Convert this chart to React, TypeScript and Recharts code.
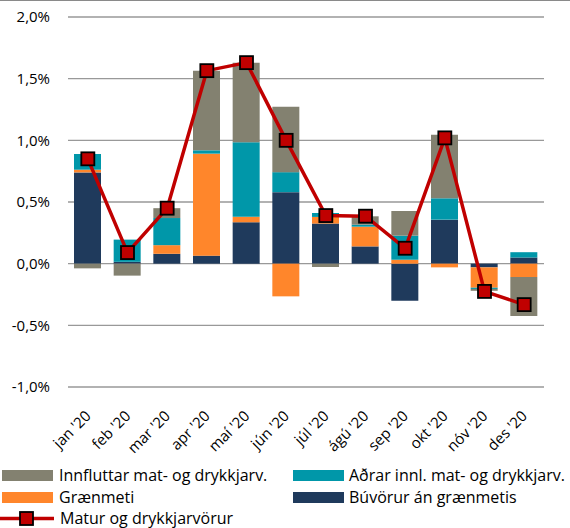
import { Bar, CartesianGrid, ComposedChart, Line, XAxis, YAxis } from "recharts"

const months = ["jan '20", "feb '20", "mar '20", "apr '20", "maí '20", "jún '20", "júl '20", "ágú '20", "sep '20", "okt '20", "nóv '20", "des '20"]

// Búvörur án grænmetis
const buvorur = [0.74, 0.015, 0.08, 0.065, 0.335, 0.58, 0.325, 0.14, -0.3, 0.357, -0.03, 0.05]
// Grænmeti
const graenmeti = [0.022, 0, 0.07, 0.827, 0.046, -0.265, 0.054, 0.16, 0.032, -0.03, -0.165, -0.108]
// Aðrar innl. mat- og drykkjarv.
const adrar = [0.127, 0.18, 0.22, 0.027, 0.603, 0.162, 0.032, 0.016, 0.195, 0.173, -0.01, 0.043]
// Innfluttar mat- og drykkjarv.
const innfluttar = [-0.038, -0.097, 0.08, 0.646, 0.646, 0.53, -0.027, 0.068, 0.2, 0.516, -0.015, -0.316]
// Matur og drykkjarvörur
const matur = [0.85, 0.09, 0.45, 1.565, 1.63, 1.0, 0.39, 0.385, 0.125, 1.02, -0.225, -0.332]

const yTicks = [-1, -0.5, 0, 0.5, 1, 1.5, 2]

const COLORS = {
  innfluttar: "#838170",
  adrar: "#0097A9",
  graenmeti: "#FF862B",
  buvorur: "#1F3A5C",
  matur: "#C00000",
}

const FONT = "'Open Sans', sans-serif"

const chartData = months.map((m, i) => ({
  month: m,
  buvorur: buvorur[i],
  graenmeti: graenmeti[i],
  adrar: adrar[i],
  innfluttar: innfluttar[i],
  matur: matur[i],
}))

const fmt = (v: number) => v.toFixed(1).replace(".", ",") + "%"

const SquareDot = (props: any) => {
  const { cx, cy } = props
  if (cx == null || cy == null) return null
  return <rect x={cx - 6.5} y={cy - 6.5} width={13} height={13} fill={COLORS.matur} stroke="#000" strokeWidth={1.8} />
}

const MonthTick = ({ x, y, payload }: any) => (
  <text
    x={x + 4}
    y={y + 22}
    transform={`rotate(-45, ${x + 4}, ${y + 22})`}
    textAnchor="end"
    fontSize={15}
    fontFamily={FONT}
    fill="#000"
  >
    {payload.value}
  </text>
)

function Swatch({ color }: { color: string }) {
  return <div style={{ width: 51, height: 11, background: color }} />
}

export default function App() {
  const legendText = { fontSize: 16, fontFamily: FONT, color: "#000", lineHeight: "16px", whiteSpace: "nowrap" as const }
  return (
    <div style={{ position: "absolute", left: 0, top: 0, width: 570, height: 528, background: "#fff", overflow: "hidden" }}>
      <div style={{ position: "absolute", left: 0, top: 0, width: 570, height: 1, background: "#8a8a8a" }} />
      <ComposedChart
        width={570}
        height={460}
        data={chartData}
        stackOffset="sign"
        barSize={27}
        margin={{ top: 17, right: 26, bottom: 0, left: 0 }}
      >
        <CartesianGrid vertical={false} stroke="#999" strokeWidth={1.3} />
        <XAxis dataKey="month" height={73} axisLine={false} tickLine={false} tick={<MonthTick />} interval={0} />
        <YAxis
          width={68}
          domain={[-1, 2]}
          ticks={yTicks}
          tickFormatter={fmt}
          axisLine={false}
          tickLine={false}
          tickSize={0}
          tickMargin={18}
          tick={{ fontSize: 15, fontFamily: FONT, fill: "#000" }}
        />
        <Bar dataKey="buvorur" stackId="a" fill={COLORS.buvorur} isAnimationActive={false} />
        <Bar dataKey="graenmeti" stackId="a" fill={COLORS.graenmeti} isAnimationActive={false} />
        <Bar dataKey="adrar" stackId="a" fill={COLORS.adrar} isAnimationActive={false} />
        <Bar dataKey="innfluttar" stackId="a" fill={COLORS.innfluttar} isAnimationActive={false} />
        <Line
          dataKey="matur"
          stroke={COLORS.matur}
          strokeWidth={3.5}
          dot={<SquareDot />}
          activeDot={false}
          isAnimationActive={false}
        />
      </ComposedChart>
      <div style={{ position: "absolute", left: 2, top: 467, display: "flex", alignItems: "center", gap: 6 }}>
        <Swatch color={COLORS.innfluttar} />
        <span style={legendText}>Innfluttar mat- og drykkjarv.</span>
      </div>
      <div style={{ position: "absolute", left: 293, top: 467, display: "flex", alignItems: "center", gap: 5 }}>
        <Swatch color={COLORS.adrar} />
        <span style={legendText}>Aðrar innl. mat- og drykkjarv.</span>
      </div>
      <div style={{ position: "absolute", left: 2, top: 489, display: "flex", alignItems: "center", gap: 6 }}>
        <Swatch color={COLORS.graenmeti} />
        <span style={legendText}>Grænmeti</span>
      </div>
      <div style={{ position: "absolute", left: 293, top: 489, display: "flex", alignItems: "center", gap: 5 }}>
        <Swatch color={COLORS.buvorur} />
        <span style={legendText}>Búvörur án grænmetis</span>
      </div>
      <div style={{ position: "absolute", left: 0, top: 510, display: "flex", alignItems: "center", gap: 6 }}>
        <svg width={54} height={15}>
          <line x1={0} y1={7.5} x2={54} y2={7.5} stroke={COLORS.matur} strokeWidth={3.5} />
          <rect x={20} y={1} width={13} height={13} fill={COLORS.matur} stroke="#000" strokeWidth={1.8} />
        </svg>
        <span style={legendText}>Matur og drykkjarvörur</span>
      </div>
    </div>
  )
}
